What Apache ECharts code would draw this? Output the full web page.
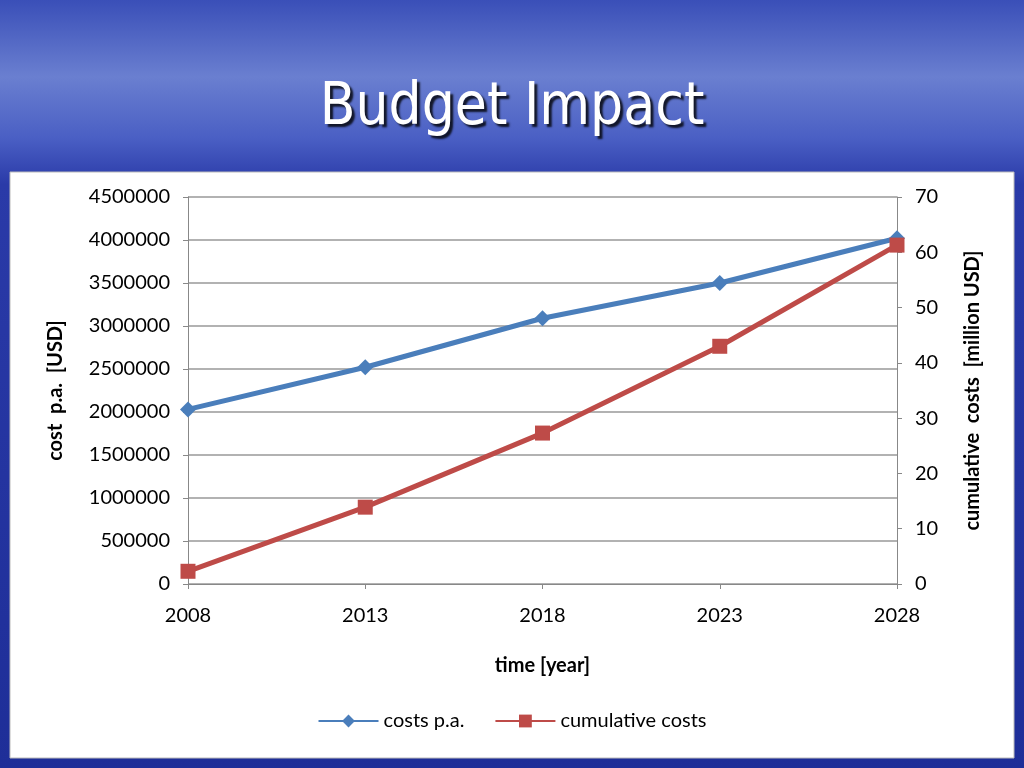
<!DOCTYPE html>
<html><head><meta charset="utf-8">
<script src="https://cdn.jsdelivr.net/npm/echarts@6/dist/echarts.min.js"></script>
<style>
html,body{margin:0;padding:0;}
#c{width:1024px;height:768px;background:linear-gradient(180deg,#3a4fb8 0%,#6a7fd0 10%,#4a5fc4 18%,#2a3aa8 24%,#1e2e98 100%);}
</style></head><body>
<div id="c"></div>
<script>
const years = ['2008','2013','2018','2023','2028'];
const costsPA = [2030000, 2520000, 3090000, 3500000, 4020000];
const cumulative = [2.3, 13.9, 27.3, 43.0, 61.3];
const chart = echarts.init(document.getElementById('c'));
const font = 'Lato, "Open Sans", sans-serif';
chart.setOption({
  textStyle:{fontFamily:font},
  graphic:[
    {type:'rect',shape:{x:10,y:172,width:1004,height:586},style:{fill:'#fff',stroke:'#bbb'},z:-10},
    {type:'text',left:'center',top:80,style:{text:'Budget Impact',fill:'#fff',font:'58px "DejaVu Sans Condensed", "Noto Sans", sans-serif',textShadowColor:'rgba(0,0,0,0.8)',textShadowOffsetX:3,textShadowOffsetY:3,textShadowBlur:2}}
  ],
  legend:{bottom:32,left:'center',itemWidth:60,itemHeight:16,itemGap:30,textStyle:{fontSize:20,color:'#000',fontFamily:font},
    data:['costs p.a.','cumulative costs']},
  grid:{left:188,right:127,top:197,bottom:184},
  xAxis:{type:'category',data:years,boundaryGap:false,name:'time [year]',nameLocation:'middle',nameGap:72,
    nameTextStyle:{fontSize:20,fontWeight:'bold',color:'#000'},
    axisLine:{lineStyle:{color:'#888'}},axisTick:{show:true,lineStyle:{color:'#888'}},
    axisLabel:{fontSize:20,color:'#000',margin:22}},
  yAxis:[
    {type:'value',min:0,max:4500000,interval:500000,name:'cost  p.a.  [USD]',nameLocation:'middle',nameGap:122,
     nameTextStyle:{fontSize:20,fontWeight:'bold',color:'#000'},
     axisLine:{show:true,lineStyle:{color:'#888'}},axisTick:{show:true,lineStyle:{color:'#888'}},
     axisLabel:{fontSize:20,color:'#000',margin:18,formatter:v=>String(v)},splitLine:{lineStyle:{color:'#999',width:1.5}}},
    {type:'value',min:0,max:70,interval:10,name:'cumulative  costs  [million USD]',nameLocation:'middle',nameGap:66,
     nameTextStyle:{fontSize:20,fontWeight:'bold',color:'#000'},
     axisLine:{show:true,lineStyle:{color:'#888'}},axisTick:{show:true,lineStyle:{color:'#888'}},
     axisLabel:{fontSize:20,color:'#000',margin:18},splitLine:{show:false}}
  ],
  series:[
    {name:'costs p.a.',type:'line',data:costsPA,yAxisIndex:0,symbol:'diamond',symbolSize:16,
     lineStyle:{color:'#4a7ebb',width:5},itemStyle:{color:'#4a7ebb'}},
    {name:'cumulative costs',type:'line',data:cumulative,yAxisIndex:1,symbol:'rect',symbolSize:15,
     lineStyle:{color:'#be4b48',width:5},itemStyle:{color:'#be4b48'}}
  ]
});
</script></body></html>
